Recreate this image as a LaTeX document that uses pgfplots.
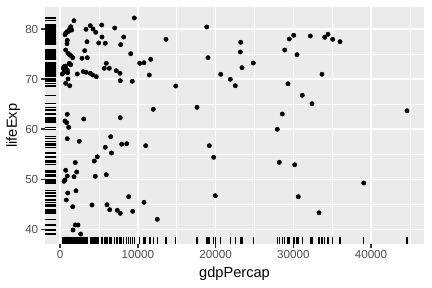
\documentclass[border=0pt]{standalone}
\usepackage{fontspec}
\setmainfont{Liberation Sans}
\usepackage{pgfplots}
\usepackage{pgfplotstable}
\pgfplotsset{compat=1.18}
\definecolor{panel}{HTML}{EBEBEB}
\definecolor{ticklab}{HTML}{4D4D4D}
\definecolor{tickcol}{HTML}{333333}
\pgfplotstableread{
gdp life
270 71.02
618 78.86
708 79.14
875 79.46
1094 79.54
1351 80.46
1223 80.00
1480 79.80
1776 81.66
708 75.81
875 77.07
914 77.74
1004 75.15
1223 74.87
1429 74.61
1609 74.27
489 72.48
708 72.61
1171 73.15
1351 72.87
399 72.16
914 71.82
837 71.62
965 71.28
528 71.48
1004 70.02
708 69.16
1223 68.68
2201 71.02
2806 74.15
2973 71.48
3320 71.36
3153 75.67
3488 74.27
3320 79.94
3449 77.47
3874 71.16
4183 70.82
4646 70.48
3874 80.66
4221 80.00
4569 79.34
4955 77.21
5341 80.80
5380 78.40
5804 77.15
5933 73.15
5676 72.16
6319 72.16
7014 80.20
7220 71.68
7696 71.16
7735 69.68
7786 76.87
8172 78.40
9073 75.07
9279 69.56
9537 82.20
10232 73.15
10785 73.27
11467 70.82
11647 73.95
11982 63.97
13616 77.94
14865 68.62
17606 64.37
18855 80.40
19022 74.27
914 62.97
618 61.64
837 61.30
1094 60.38
3024 62.04
7735 62.30
914 58.10
2458 57.59
6499 58.50
5804 56.39
6602 55.25
7915 57.01
8559 57.11
11004 56.71
1943 53.35
4389 53.65
4775 54.49
708 51.80
2124 51.46
914 50.66
1776 50.52
4517 50.60
5933 50.92
618 49.86
489 49.60
2033 47.72
965 47.27
8816 46.53
785 45.87
1609 44.53
4093 44.87
6023 44.93
6371 43.93
7349 43.81
7735 43.21
9331 43.61
10785 45.41
12497 42.02
1943 40.88
2291 40.88
1647 39.88
2638 39.08
19189 56.71
19755 54.39
19961 46.73
20656 70.96
21892 69.96
22535 68.68
23230 77.35
23179 75.41
23397 72.28
24852 73.21
27941 59.98
28584 63.03
28893 75.81
29318 69.08
29485 78.00
30051 78.74
30476 74.87
31158 66.77
32188 78.60
32406 65.09
33693 70.96
34041 78.34
34466 78.94
35071 77.94
36011 77.47
44633 63.69
28198 53.39
30180 52.91
39060 49.26
30643 46.53
33307 43.33
}\gapdata
\begin{document}
\begin{tikzpicture}
\begin{axis}[
  scale only axis,
  width=379bp, height=236.7bp,
  xmin=-1956, xmax=46820,
  ymin=37.09, ymax=84.33,
  axis background/.style={fill=panel},
  axis line style={draw=none},
  xtick={0,10000,20000,30000,40000},
  ytick={40,50,60,70,80},
  minor xtick={5000,15000,25000,35000,45000},
  minor ytick={45,55,65,75},
  grid=both,
  major grid style={draw=white, line width=1.42bp},
  minor grid style={draw=white, line width=0.71bp},
  tick pos=left,
  tick align=outside,
  major tick length=3.67bp,
  minor tick length=0pt,
  every tick/.style={draw=tickcol, line width=1.42bp},
  scaled ticks=false,
  /pgf/number format/assume math mode=true,
  xticklabel style={/pgf/number format/fixed, /pgf/number format/1000 sep={}, font=\fontsize{11.7}{13}\selectfont, text=ticklab, inner sep=0pt, anchor=north, yshift=-2.9bp},
  yticklabel style={font=\fontsize{11.7}{13}\selectfont, text=ticklab, inner sep=0pt, anchor=east, xshift=-2.9bp},
  xlabel={gdpPercap},
  ylabel={lifeExp},
  every axis x label/.style={at={(axis description cs:0.5,-0.0950)}, anchor=north, inner sep=0pt, font=\fontsize{14.67}{16}\selectfont},
  every axis y label/.style={at={(axis description cs:-0.0660,0.5)}, rotate=90, anchor=south, inner sep=0pt, font=\fontsize{14.67}{16}\selectfont},
  clip=false,
]
\addplot[only marks, mark=|, mark size=3.55bp, draw=black, line width=1.1bp] table[x=gdp, y expr=37.80] {\gapdata};
\addplot[only marks, mark=-, mark size=5.7bp, draw=black, line width=1.1bp] table[x expr=-1222, y=life] {\gapdata};
\addplot[only marks, mark=*, mark size=2.2bp, draw=black, fill=black] table[x=gdp, y=life] {\gapdata};
\end{axis}
\pgfresetboundingbox
\path[use as bounding box] ([xshift=-45bp,yshift=-44bp]current axis.south west) rectangle ([xshift=8bp,yshift=7.3bp]current axis.north east);
\end{tikzpicture}
\end{document}
